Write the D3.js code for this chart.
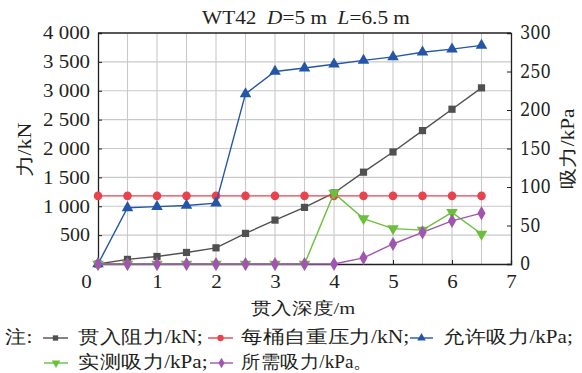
<!DOCTYPE html>
<html><head><meta charset="utf-8">
<script src="https://cdn.jsdelivr.net/npm/d3@7"></script>
<style>
html,body{margin:0;padding:0;background:#fff;}
</style></head>
<body>
<svg id="c" width="582" height="373"></svg>
<script>
// ---- data ----
const depth = [0, 0.5, 1, 1.5, 2, 2.5, 3, 3.5, 4, 4.5, 5, 5.5, 6, 6.5];
const resistance = [0, 80, 130, 200, 280, 530, 760, 980, 1230, 1590, 1940, 2310, 2680, 3050]; // kN
const selfWeight = [1180, 1180, 1180, 1180, 1180, 1180, 1180, 1180, 1180, 1180, 1180, 1180, 1180, 1180]; // kN
const allowedSuction = [0, 73, 74.5, 76, 79, 221, 250, 254.5, 259.5, 264.5, 269, 275, 279, 284]; // kPa
const measuredSuction = [0, 0, 0, 0, 0, 0, 0, 0, 92, 59, 46, 44, 67, 39]; // kPa
const requiredSuction = [0, 0, 0, 0, 0, 0, 0, 0, 0, 8, 26, 41, 56, 66]; // kPa
const xTicks = [0, 1, 2, 3, 4, 5, 6, 7];
const leftTicks = [500, 1000, 1500, 2000, 2500, 3000, 3500, 4000];
const leftTickLabels = ["500", "1 000", "1 500", "2 000", "2 500", "3 000", "3 500", "4 000"];
const rightTicks = [0, 50, 100, 150, 200, 250, 300];
const seriesNames = ["贯入阻力/kN;", "每桶自重压力/kN;", "允许吸力/kPa;", "实测吸力/kPa;", "所需吸力/kPa。"];

const FONT = "Liberation Serif";
const INK = "#231f20";
const svg = d3.select("#c");
const X0 = 98, X1 = 511, Y0 = 264, Y1 = 33;
const x = d3.scaleLinear().domain([0, 7]).range([X0, X1]);
const yL = d3.scaleLinear().domain([0, 4000]).range([Y0, Y1]);
const yR = d3.scaleLinear().domain([0, 300]).range([Y0, Y1]);

function fit(sel, w) {
  sel.each(function () {
    const n = this.getBBox().width;
    if (!n) return;
    const s = w / n;
    const ax = +(this.getAttribute("x") || 0);
    this.setAttribute("transform", `translate(${ax},0) scale(${s},1) translate(${-ax},0)`);
  });
}
function txt(parent, f) {
  return parent.append("text").attr("font-family", f || FONT).attr("fill", INK);
}

// grid
const grid = svg.append("g").attr("stroke", "#c9c9c9").attr("stroke-width", 1.1);
grid.selectAll("line.v").data(d3.range(0.5, 7, 0.5)).join("line")
  .attr("x1", d => x(d)).attr("x2", d => x(d)).attr("y1", Y1).attr("y2", Y0);
grid.selectAll("line.h").data(leftTicks.slice(0, -1)).join("line")
  .attr("y1", d => yL(d)).attr("y2", d => yL(d)).attr("x1", X0).attr("x2", X1);

// axes
const fs = 18;
const gL = svg.append("g").attr("transform", `translate(${X0},0)`)
  .call(d3.axisLeft(yL).tickValues(leftTicks).tickSize(-4).tickPadding(8)
    .tickFormat((d, i) => leftTickLabels[i]));
const gR = svg.append("g").attr("transform", `translate(${X1},0)`)
  .call(d3.axisRight(yR).tickValues(rightTicks).tickSize(-4).tickPadding(9)
    .tickFormat(d3.format("d")));
const gB = svg.append("g").attr("transform", `translate(0,${Y0})`)
  .call(d3.axisBottom(x).tickValues(xTicks).tickSize(-4).tickPadding(11)
    .tickFormat(d3.format("d")));
svg.append("line").attr("x1", X0).attr("x2", X1).attr("y1", Y1).attr("y2", Y1)
  .attr("stroke", INK).attr("stroke-width", 1.3);
[[gL, "Liberation Serif"], [gR, "DejaVu Serif"], [gB, "Times New Roman"]].forEach(([g, f]) => {
  g.attr("font-family", f).attr("font-size", fs);
  g.select(".domain").attr("stroke", INK).attr("stroke-width", 1.3);
  g.selectAll(".tick line").attr("stroke", INK).attr("stroke-width", 1);
  g.selectAll("text").attr("font-size", fs).attr("font-family", f).attr("fill", INK);
});
gL.selectAll(".tick text").each(function (d, i) {
  const t = leftTickLabels[i];
  fit(d3.select(this), t.replace(/ /g, "").length * 10 + (t.includes(" ") ? 7 : 0));
});
gR.selectAll(".tick text").attr("dy", "0.33em")
  .each(function (d) { fit(d3.select(this), String(d).length * 10.3); });
gB.selectAll(".tick text").attr("dy", "0.72em").each(function (d) {
  if (d === 0) d3.select(this).attr("x", -12);
  fit(d3.select(this), 10.5);
});

// series
const series = [
  { v: resistance, y: yL, color: "#505050", sym: d3.symbolSquare, size: 52 },
  { v: selfWeight, y: yL, color: "#e8424c", sym: d3.symbolCircle, size: 58 },
  { v: allowedSuction, y: yR, color: "#2456a8", sym: d3.symbolTriangle, size: 58 },
  { v: measuredSuction, y: yR, color: "#6cbf3c", sym: d3.symbolTriangle, size: 58, rot: 180 },
  { v: requiredSuction, y: yR, color: "#a056b0", sym: d3.symbolDiamond, size: 58 }
];
series.forEach(s => {
  const pts = depth.map((d, i) => [x(d), s.y(s.v[i])]);
  svg.append("path").attr("d", d3.line()(pts)).attr("fill", "none")
    .attr("stroke", s.color).attr("stroke-width", 1.4);
  svg.append("g").selectAll("path").data(pts).join("path")
    .attr("d", d3.symbol(s.sym, s.size))
    .attr("transform", p => `translate(${p[0]},${p[1]})` + (s.rot ? ` rotate(${s.rot})` : ""))
    .attr("fill", s.color);
});

// title
const title = txt(svg, "serif").attr("x", 306).attr("y", 24).attr("text-anchor", "middle")
  .attr("font-size", 18).style("white-space", "pre");
title.append("tspan").text("WT42  ");
title.append("tspan").attr("font-style", "italic").text("D");
title.append("tspan").text("=5 m  ");
title.append("tspan").attr("font-style", "italic").text("L");
title.append("tspan").text("=6.5 m");
fit(title, 208);

// axis titles
const xl = txt(svg).attr("x", 303).attr("y", 314).attr("text-anchor", "middle")
  .attr("font-size", 17).text("贯入深度/m");
fit(xl, 104);
function vLabel(cx, cy, str, len) {
  const g = svg.append("g").attr("transform", `translate(${cx},${cy}) rotate(-90)`);
  const t = txt(g).attr("x", 0).attr("y", 0).attr("text-anchor", "middle")
    .attr("dy", "0.36em").attr("font-size", 18).text(str);
  fit(t, len);
}
vLabel(25, 150, "力/kN", 55);
vLabel(568, 149, "吸力/kPa", 80);

// legend
const lfs = 18;
function ltext(xs, xe, y, str) {
  const t = txt(svg).attr("x", xs).attr("y", y).attr("font-size", lfs).text(str);
  fit(t, xe - xs);
}
ltext(5, 32, 343.5, "注:");
const legendPos = [
  { x0: 43, x1: 68, y: 338, tx: 78, te: 202, ty: 343.5 },
  { x0: 208, x1: 233, y: 338, tx: 241, te: 408, ty: 343.5 },
  { x0: 410, x1: 433, y: 338, tx: 443.5, te: 571, ty: 343.5 },
  { x0: 44, x1: 68, y: 363, tx: 78, te: 206, ty: 368.5 },
  { x0: 210, x1: 233, y: 363, tx: 241, te: 371, ty: 368.5 }
];
series.forEach((s, i) => {
  const p = legendPos[i];
  svg.append("line").attr("x1", p.x0).attr("x2", p.x1).attr("y1", p.y).attr("y2", p.y)
    .attr("stroke", s.color).attr("stroke-width", 1.4);
  svg.append("path").attr("d", d3.symbol(s.sym, s.size * 0.55))
    .attr("transform", `translate(${(p.x0 + p.x1) / 2},${p.y})` + (s.rot ? ` rotate(${s.rot})` : ""))
    .attr("fill", s.color);
  ltext(p.tx, p.te, p.ty, seriesNames[i]);
});
</script>
</body></html>
